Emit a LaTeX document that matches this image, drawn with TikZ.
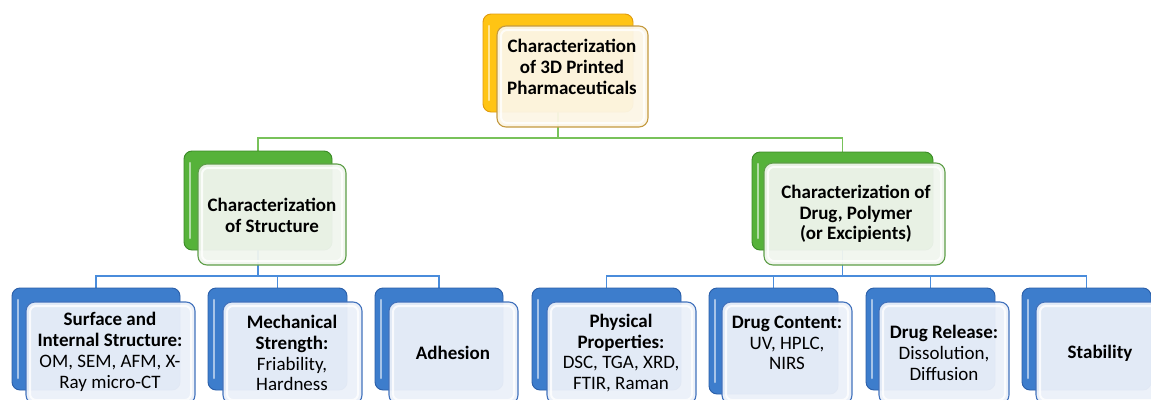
\documentclass[tikz,border=0pt]{standalone}
\usepackage{fontspec}
\setmainfont{Carlito}
\pgfdeclarelayer{bg}
\pgfsetlayers{bg,main}
\definecolor{ybk}{HTML}{FFC414}
\definecolor{ydk}{HTML}{E09A0C}
\definecolor{yfr}{HTML}{FCF6E6}
\definecolor{yln}{HTML}{C49A40}
\definecolor{gbk}{HTML}{56B23A}
\definecolor{gdk}{HTML}{3A8A26}
\definecolor{gfr}{HTML}{F0F5EE}
\definecolor{gln}{HTML}{5E9E48}
\definecolor{bbk}{HTML}{3D7DCC}
\definecolor{bdk}{HTML}{2A5EA8}
\definecolor{bfr}{HTML}{EBF0F9}
\definecolor{bln}{HTML}{4272BC}
\definecolor{gcon}{HTML}{78C25A}
\definecolor{bcon}{HTML}{4A8CDB}
\tikzset{
  backbox/.style={rounded corners=8pt, inner sep=0pt, fill=#1bk, draw=#1dk, line width=0.9pt,
    path picture={\draw[white, opacity=.55, line width=2.5pt, line cap=round]
      ([xshift=6pt,yshift=-12pt]path picture bounding box.north west) --
      ([xshift=6pt,yshift=12pt]path picture bounding box.south west);}},
  frontbox/.style={rounded corners=9pt, inner sep=0pt, fill=#1fr, fill opacity=.95, draw=#1ln, line width=1.1pt,
    path picture={\draw[white, opacity=.8, line width=2pt, rounded corners=6pt]
      ([xshift=4pt,yshift=-4pt]path picture bounding box.north west) rectangle
      ([xshift=-4pt,yshift=4pt]path picture bounding box.south east);}},
  txt/.style={align=center, inner sep=0pt, text=black, font=\fontsize{19}{20.8}\selectfont},
  gline/.style={draw=gcon, line width=1.4pt},
  bline/.style={draw=bcon, line width=1.4pt},
}
\begin{document}
\begin{tikzpicture}[x=1pt,y=-1pt]
\useasboundingbox (0,0) rectangle (1151,399);
\clip (0,0) rectangle (1151,399);
% top
\node[backbox=y, minimum width=150pt, minimum height=98pt] (root-back) at (558,63) {};
\node[frontbox=y, minimum width=151pt, minimum height=101pt] (root) at (572.5,76.5) {};
\node[txt, font=\fontsize{19}{20.8}\selectfont\bfseries] (root-t) at (572,67) {Characterization\\of 3D Printed\\Pharmaceuticals};
% green
\node[backbox=g, minimum width=148pt, minimum height=99pt] (str-back) at (258,200.5) {};
\node[frontbox=g, minimum width=148pt, minimum height=101pt] (str) at (272,214.5) {};
\node[txt, font=\fontsize{19}{20.8}\selectfont\bfseries] (str-t) at (272,215) {Characterization\\of Structure};
\node[backbox=g, minimum width=181pt, minimum height=98pt] (drug-back) at (842.5,201) {};
\node[frontbox=g, minimum width=181pt, minimum height=102pt] (drug) at (854.5,214) {};
\node[txt, font=\fontsize{19}{20.8}\selectfont\bfseries] (drug-t) at (856,214) {Characterization of\\Drug, Polymer\\(or Excipients)};
% blue row
\node[backbox=b, minimum width=168pt, minimum height=102pt] (surf-back) at (96,339) {};
\node[frontbox=b, minimum width=169pt, minimum height=102pt] (surf) at (110.5,353) {};
\node[txt] (surf-t) at (110,352) {\textbf{Surface and}\\\textbf{Internal Structure:}\\OM, SEM, AFM, X-\\Ray micro-CT};
\node[backbox=b, minimum width=139pt, minimum height=102pt] (mech-back) at (277.5,339) {};
\node[frontbox=b, minimum width=139pt, minimum height=102pt] (mech) at (292.5,353) {};
\node[txt] (mech-t) at (292,353) {\textbf{Mechanical}\\\textbf{Strength:}\\Friability,\\Hardness};
\node[backbox=b, minimum width=128pt, minimum height=102pt] (adh-back) at (439,339) {};
\node[frontbox=b, minimum width=129pt, minimum height=102pt] (adh) at (453.5,353) {};
\node[txt] (adh-t) at (453,353) {\textbf{Adhesion}};
\node[backbox=b, minimum width=149pt, minimum height=102pt] (phys-back) at (606.5,339) {};
\node[frontbox=b, minimum width=149pt, minimum height=102pt] (phys) at (621.5,353) {};
\node[txt] (phys-t) at (621,353) {\textbf{Physical}\\\textbf{Properties:}\\DSC, TGA, XRD,\\FTIR, Raman};
\node[backbox=b, minimum width=129pt, minimum height=106pt] (cont-back) at (773.5,341) {};
\node[frontbox=b, minimum width=130pt, minimum height=102pt] (cont) at (787,353) {};
\node[txt] (cont-t) at (787,343) {\textbf{Drug Content:}\\UV, HPLC,\\NIRS};
\node[backbox=b, minimum width=129pt, minimum height=102pt] (rel-back) at (930.5,339) {};
\node[frontbox=b, minimum width=130pt, minimum height=102pt] (rel) at (944,353) {};
\node[txt] (rel-t) at (944,353) {\textbf{Drug Release:}\\Dissolution,\\Diffusion};
\node[backbox=b, minimum width=129pt, minimum height=102pt] (stab-back) at (1086.5,339) {};
\node[frontbox=b, minimum width=129pt, minimum height=102pt] (stab) at (1100.5,353) {};
\node[txt] (stab-t) at (1100,353) {\textbf{Stability}};
% connectors
\coordinate (gbus) at (0,138);
\coordinate (lbus) at (0,276);
\coordinate (rbus) at (0,276);
\begin{pgfonlayer}{bg}
\draw[gline] (root-back.south) -- (root-back.south |- gbus) -| (str-back.north);
\draw[gline] (root-back.south |- gbus) -| (drug-back.north);
\draw[bline] (str-back.south) -- (str-back.south |- lbus) -| (surf-back.north);
\draw[bline] (str-back.south |- lbus) -| (mech-back.north);
\draw[bline] (str-back.south |- lbus) -| (adh-back.north);
\draw[bline] (drug-back.south) -- (drug-back.south |- rbus) -| (phys-back.north);
\draw[bline] (drug-back.south |- rbus) -| (cont-back.north);
\draw[bline] (drug-back.south |- rbus) -| (rel-back.north);
\draw[bline] (drug-back.south |- rbus) -| (stab-back.north);
\end{pgfonlayer}
\end{tikzpicture}
\end{document}
